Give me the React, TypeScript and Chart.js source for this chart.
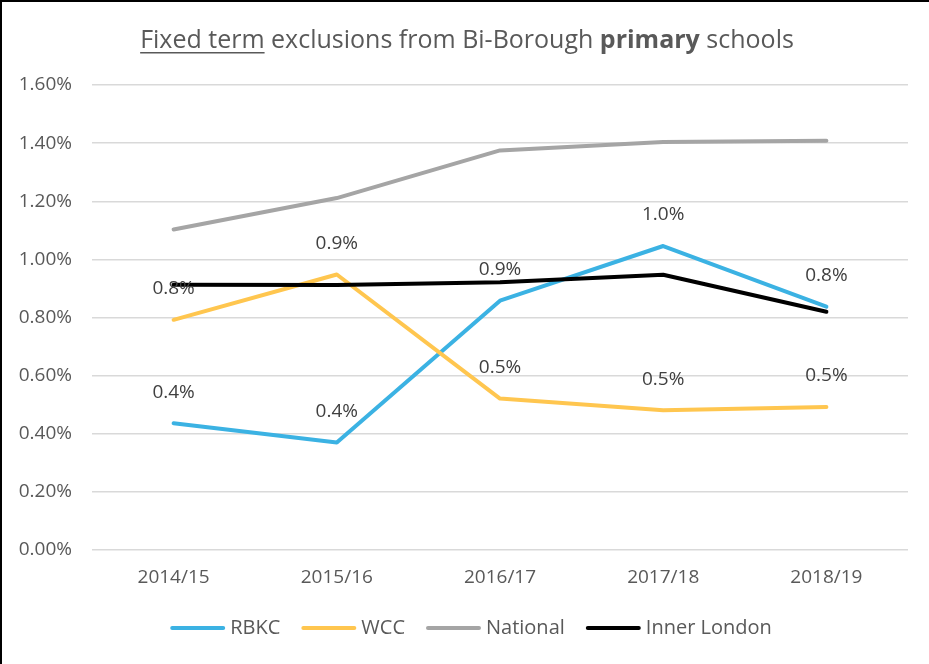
import React, { useEffect, useRef } from "react";
import { Chart, registerables } from "chart.js";

Chart.register(...registerables);

const categories = ["2014/15", "2015/16", "2016/17", "2017/18", "2018/19"];
const rbkc = [0.436, 0.37, 0.858, 1.046, 0.837];
const wcc = [0.792, 0.948, 0.521, 0.481, 0.492];
const national = [1.103, 1.211, 1.375, 1.404, 1.408];
const innerLondon = [0.913, 0.912, 0.921, 0.947, 0.82];

const seriesNames = ["RBKC", "WCC", "National", "Inner London"];
const seriesColors = ["#3BB2E3", "#FFC64F", "#A5A5A5", "#000000"];
const labelledSeries = [0, 1];

const yMin = 0;
const yMax = 1.6;
const yStep = 0.2;

const titleParts = [
  { text: "Fixed term", bold: false, underline: true },
  { text: " exclusions from Bi-Borough ", bold: false, underline: false },
  { text: "primary", bold: true, underline: false },
  { text: " schools", bold: false, underline: false },
];

const FONT = "'Open Sans', sans-serif";
const TEXT = "#595959";

const decorPlugin = {
  id: "decor",
  beforeDraw(chart: any) {
    const ctx = chart.ctx;
    ctx.save();
    ctx.fillStyle = "#ffffff";
    ctx.fillRect(0, 0, chart.width, chart.height);
    ctx.fillStyle = "#000000";
    ctx.fillRect(0, 0, chart.width, 2);
    ctx.fillRect(0, 0, 2, chart.height);
    ctx.restore();
  },
  afterDatasetsDraw(chart: any) {
    const ctx = chart.ctx;
    ctx.save();
    ctx.font = `19px ${FONT}`;
    ctx.fillStyle = "#404040";
    ctx.textAlign = "center";
    ctx.textBaseline = "middle";
    labelledSeries.forEach((di) => {
      const meta = chart.getDatasetMeta(di);
      const data = chart.data.datasets[di].data as number[];
      meta.data.forEach((pt: any, i: number) => {
        ctx.fillText(data[i].toFixed(1) + "%", pt.x, pt.y - 31);
      });
    });
    ctx.restore();
  },
  afterDraw(chart: any) {
    const ctx = chart.ctx;
    ctx.save();
    // title
    const size = 25;
    const fontFor = (b: boolean) => `${b ? "bold " : ""}${size}px ${FONT}`;
    let total = 0;
    const widths = titleParts.map((p) => {
      ctx.font = fontFor(p.bold);
      const w = ctx.measureText(p.text).width;
      total += w;
      return w;
    });
    let x = 467 - total / 2;
    const baseY = 48;
    ctx.fillStyle = TEXT;
    ctx.textBaseline = "alphabetic";
    ctx.textAlign = "left";
    titleParts.forEach((p, i) => {
      ctx.font = fontFor(p.bold);
      ctx.fillText(p.text, x, baseY);
      if (p.underline) {
        ctx.fillRect(x, baseY + 4, widths[i], 1.5);
      }
      x += widths[i];
    });

    // legend
    ctx.font = `20px ${FONT}`;
    const lineLen = 55;
    const gap = 5;
    const spacing = 21;
    const textW = seriesNames.map((n) => ctx.measureText(n).width);
    let legendW = 0;
    textW.forEach((w, i) => {
      legendW += lineLen + gap + w + (i < textW.length - 1 ? spacing : 0);
    });
    let lx = 471 - legendW / 2;
    const ly = 628;
    ctx.textBaseline = "middle";
    seriesNames.forEach((n, i) => {
      ctx.strokeStyle = seriesColors[i];
      ctx.lineWidth = 4;
      ctx.lineCap = "round";
      ctx.beginPath();
      ctx.moveTo(lx + 2, ly);
      ctx.lineTo(lx + lineLen - 2, ly);
      ctx.stroke();
      ctx.fillStyle = TEXT;
      ctx.fillText(n, lx + lineLen + gap, ly);
      lx += lineLen + gap + textW[i] + spacing;
    });
    ctx.restore();
  },
};

export default function App() {
  const ref = useRef<HTMLCanvasElement | null>(null);

  useEffect(() => {
    if (!ref.current) return;
    const seriesData = [rbkc, wcc, national, innerLondon];
    const chart = new Chart(ref.current, {
      type: "line",
      data: {
        labels: categories,
        datasets: seriesNames.map((name, i) => ({
          label: name,
          data: seriesData[i],
          borderColor: seriesColors[i],
          backgroundColor: seriesColors[i],
          borderWidth: 4,
          pointRadius: 0,
          pointHoverRadius: 0,
          tension: 0,
          fill: false,
          borderCapStyle: "round" as const,
          borderJoinStyle: "round" as const,
          order: seriesNames.length - i,
        })),
      },
      options: {
        responsive: false,
        animation: false,
        devicePixelRatio: 1,
        layout: { padding: { top: 85, right: 21, bottom: 64, left: 0 } },
        plugins: {
          legend: { display: false },
          title: { display: false },
          tooltip: { enabled: false },
        },
        scales: {
          x: {
            offset: true,
            grid: { display: false, drawTicks: false },
            border: { display: false },
            ticks: {
              color: TEXT,
              font: { family: FONT, size: 19 },
              padding: 16,
              maxRotation: 0,
            },
            afterFit(scale: any) {
              scale.height = 50;
            },
          },
          y: {
            min: yMin,
            max: yMax,
            grid: { color: "#D9D9D9", lineWidth: 1.5, drawTicks: false },
            border: { display: false },
            ticks: {
              stepSize: yStep,
              color: TEXT,
              font: { family: FONT, size: 19 },
              padding: 20,
              callback: (v: any) => Number(v).toFixed(2) + "%",
            },
            afterFit(scale: any) {
              scale.width = 92;
            },
          },
        },
      },
      plugins: [decorPlugin],
    });
    return () => chart.destroy();
  }, []);

  return (
    <div style={{ position: "fixed", left: 0, top: 0, width: 929, height: 664, background: "#fff" }}>
      <canvas ref={ref} width={929} height={664} style={{ display: "block", width: 929, height: 664 }} />
    </div>
  );
}
